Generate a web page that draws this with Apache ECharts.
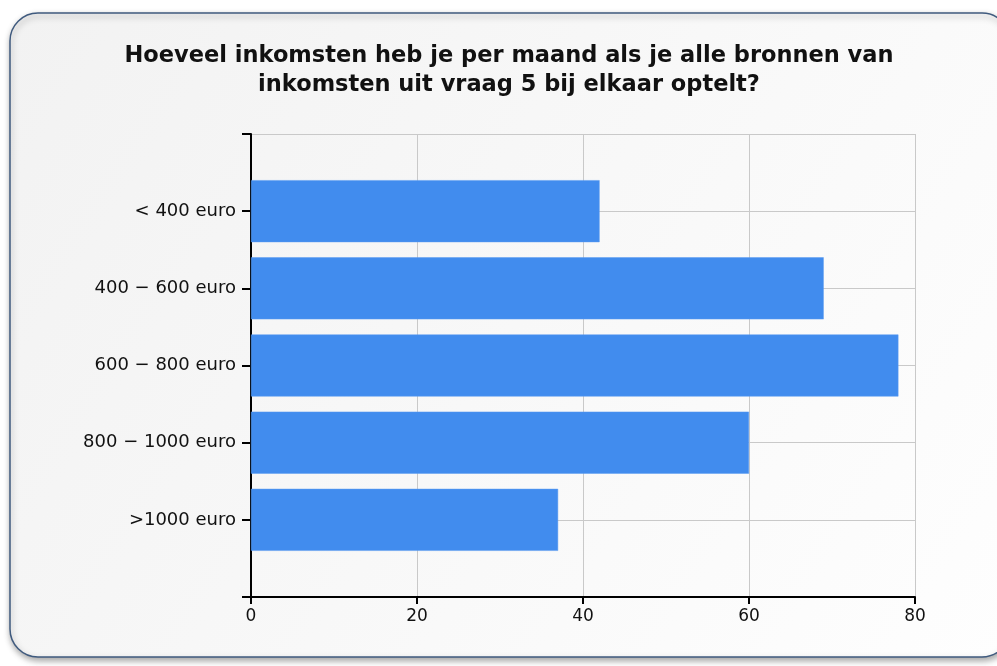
<!DOCTYPE html>
<html>
<head>
<meta charset="utf-8">
<script src="https://cdn.jsdelivr.net/npm/echarts@6/dist/echarts.min.js"></script>
<style>
html,body{margin:0;padding:0;background:#ffffff;}
#chart{width:997px;height:666px;}
</style>
</head>
<body>
<div id="chart"></div>
<script>
var titleText = 'Hoeveel inkomsten heb je per maand als je alle bronnen van\ninkomsten uit vraag 5 bij elkaar optelt?';
var categories = ['< 400 euro', '400 \u2212 600 euro', '600 \u2212 800 euro', '800 \u2212 1000 euro', '>1000 euro'];
var values = [42, 69, 78, 60, 37];
var xTicks = [0, 20, 40, 60, 80];

// empty slots above and below the categories, as in the original layout
var axisCats = [' '].concat(categories, ['  ']);
var barData = [null].concat(values, [null]);

var chart = echarts.init(document.getElementById('chart'), null, {renderer: 'canvas'});

chart.setOption({
  animation: false,
  backgroundColor: '#ffffff',
  graphic: [{
    type: 'rect',
    z: -10,
    shape: {x: 10, y: 13, width: 1000, height: 644, r: 28},
    style: {
      fill: new echarts.graphic.LinearGradient(0, 0, 1, 1, [
        {offset: 0, color: '#f2f2f2'},
        {offset: 1, color: '#fefefe'}
      ]),
      stroke: '#3f5a7e',
      lineWidth: 1.5,
      shadowBlur: 6,
      shadowOffsetY: 3,
      shadowOffsetX: 1,
      shadowColor: 'rgba(0,0,0,0.35)'
    }
  }],
  title: {
    text: titleText,
    left: 504,
    top: 37,
    textAlign: 'center',
    textStyle: {
      fontFamily: 'DejaVu Sans',
      fontWeight: 'bold',
      fontSize: 22.5,
      lineHeight: 29,
      color: '#111111'
    }
  },
  grid: {left: 251, right: 82, top: 134, bottom: 69, containLabel: false},
  xAxis: {
    type: 'value',
    position: 'bottom',
    min: xTicks[0],
    max: xTicks[xTicks.length - 1],
    interval: 20,
    axisLine: {show: true, onZero: false, lineStyle: {color: '#000', width: 2}},
    axisTick: {show: true, length: 7, lineStyle: {color: '#000', width: 2}},
    axisLabel: {
      margin: 11,
      color: '#111',
      fontFamily: 'DejaVu Sans',
      fontSize: 17,
      showMinLabel: true,
      showMaxLabel: true
    },
    splitLine: {show: true, lineStyle: {color: '#c9c9c9', width: 1}}
  },
  yAxis: {
    type: 'category',
    inverse: true,
    data: axisCats,
    boundaryGap: false,
    axisLine: {show: true, lineStyle: {color: '#000', width: 2}},
    axisTick: {show: true, length: 9, interval: 0, lineStyle: {color: '#000', width: 2}},
    axisLabel: {
      margin: 15,
      interval: 0,
      color: '#111',
      fontFamily: 'DejaVu Sans',
      fontSize: 18
    },
    splitLine: {show: true, interval: 0, lineStyle: {color: '#c9c9c9', width: 1}}
  },
  series: [{
    type: 'bar',
    data: barData,
    barWidth: 62,
    itemStyle: {color: '#418cee', borderColor: '#5a9bf0', borderWidth: 0.5}
  }]
});
</script>
</body>
</html>
